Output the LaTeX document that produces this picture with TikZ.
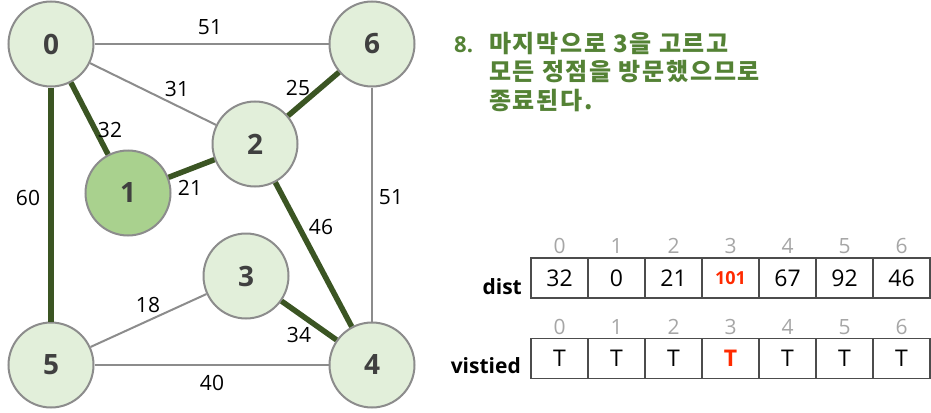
\documentclass[tikz,border=0pt]{standalone}
\usepackage{fontspec}
\setmainfont{Open Sans}
\newfontfamily\kr{Noto Sans CJK KR}[LetterSpace=7]
\usepackage{tikz}
\usetikzlibrary{positioning}
\definecolor{vfill}{HTML}{E2EFDA}
\definecolor{sfill}{HTML}{A9D18E}
\definecolor{vline}{HTML}{8C8C8C}
\definecolor{treecol}{HTML}{3B5523}
\definecolor{notecol}{HTML}{548235}
\definecolor{idxcol}{HTML}{A6A6A6}
\definecolor{hotcol}{HTML}{FF2A00}

\begin{document}
\begin{tikzpicture}[x=1pt,y=-1pt,
  vert/.style={inner sep=0pt,minimum size=85pt,circle,draw=vline,line width=2pt,fill=vfill,text=black!75,font=\fontsize{28}{30}\selectfont\bfseries},
  start/.style={vert,fill=sfill},
  plain/.style={draw=vline,line width=2pt},
  treeline/.style={draw=treecol,line width=5.5pt},
  lbl/.style={inner sep=0pt,font=\fontsize{21}{23}\selectfont},
  cell/.style={draw=black!70,line width=1.2pt,minimum width=57pt,minimum height=40pt,inner sep=0pt,font=\fontsize{23}{25}\selectfont},
  idx/.style={inner sep=0pt,text=idxcol,font=\fontsize{21}{23}\selectfont},
  rowname/.style={inner sep=0pt,anchor=east,font=\fontsize{21}{23}\selectfont\bfseries}]
  \useasboundingbox (0,0) rectangle (931,412);

  % graph
  \node[vert](0) at (51,44){0};
  \node[vert](6) at (372,44){6};
  \node[vert](2) at (255,144){2};
  \node[start](1) at (128,193){1};
  \node[vert](3) at (246,276){3};
  \node[vert](5) at (51,365){5};
  \node[vert](4) at (372,365){4};

  \draw[plain] (0) -- (6);
  \draw[plain] (0) -- (2);
  \draw[plain] (6) -- (4);
  \draw[plain] (5) -- (3);
  \draw[plain] (5) -- (4);
  \draw[treeline] (0) -- (1);
  \draw[treeline] (1) -- (2);
  \draw[treeline] (2) -- (6);
  \draw[treeline] (2) -- (4);
  \draw[treeline] (3) -- (4);
  \draw[treeline] (0) -- (5);

  \node[lbl] at (210,27){51};
  \node[lbl] at (177,89){31};
  \node[lbl] at (298,88){25};
  \node[lbl] at (110,130){32};
  \node[lbl] at (190,188){21};
  \node[lbl] at (28,198){60};
  \node[lbl] at (391,197){51};
  \node[lbl] at (321,227){46};
  \node[lbl] at (148,305){18};
  \node[lbl] at (299,335){34};
  \node[lbl] at (212,383){40};

  % note
  \node[anchor=west,inner sep=0pt,text=notecol,font=\fontsize{22}{24}\selectfont\bfseries](num) at (454,45){8.};
  \node[anchor=north west,inner sep=0pt,align=left,text=notecol,font=\kr\fontsize{24}{28.5}\selectfont\bfseries](note) at (489,32){마지막으로 3을 고르고\\모든 정점을 방문했으므로\\종료된다.};

  % table
  \foreach \d/\t [count=\i from 0] in {32/T,0/T,21/T,{\textcolor{hotcol}{\fontsize{18}{20}\selectfont\bfseries 101}}/{\textcolor{hotcol}{\bfseries T}},67/T,92/T,46/T}{
    \node[cell](d\i) at ({559.5+57*\i},278){\d};
    \node[cell](v\i) at ({559.5+57*\i},358.5){\t};
    \node[idx] at ({559.5+57*\i},246){\i};
    \node[idx] at ({559.5+57*\i},327){\i};
  }
  \node[rowname](dist) at (522,287){dist};
  \node[rowname](vis) at (521,366){vistied};
\end{tikzpicture}
\end{document}
